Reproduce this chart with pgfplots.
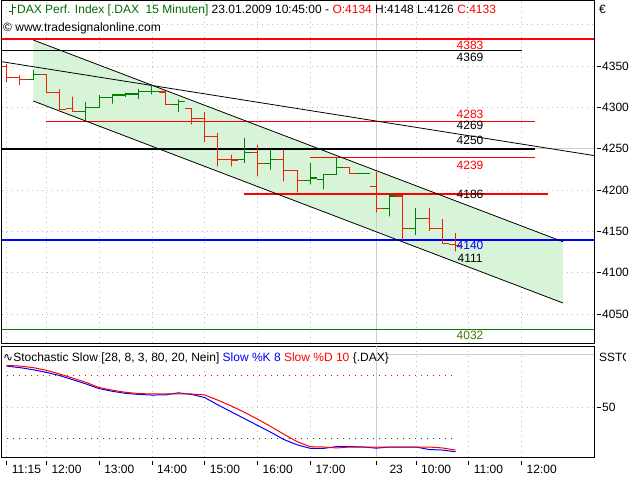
\documentclass[border=0pt]{standalone}
\usepackage{fontspec}
\setmainfont{Liberation Sans}
\newfontfamily\dejavu{DejaVu Sans}
\usepackage{pgfplots}
\pgfplotsset{compat=1.18}

\definecolor{barred}{RGB}{235,35,0}
\definecolor{bargreen}{RGB}{0,128,0}
\definecolor{chan}{RGB}{216,244,216}
\definecolor{hdrgreen}{RGB}{0,110,0}
\definecolor{lvlred}{RGB}{255,0,0}
\definecolor{lvlgreen}{RGB}{0,128,0}
\definecolor{dotgreen}{RGB}{0,100,0}
\definecolor{lblolive}{RGB}{70,120,0}
\definecolor{dotgray}{RGB}{190,190,190}
\definecolor{sepgray}{RGB}{205,205,205}

\tikzset{lvl/.style={inner sep=0pt}}

\pgfplotsset{
  panel/.style={
    scale only axis, width=592pt,
    xmin=-0.356, xmax=44.49,
    axis line style={line width=1pt},
    tick align=outside,
    tick label style={font=\fontsize{12}{14}\selectfont},
    xtick={0,3,7,11,15,19,23,28,31,35,39},
    ytick pos=right, yticklabel pos=right,
    ytick style={black, line width=0.8pt, xshift=3pt},
    major tick length=4pt,
    grid=major,
    grid style={dotgray, line width=0.8pt, dash pattern=on 1pt off 4pt},
    unbounded coords=jump,
    /pgf/number format/1000 sep={},
    /pgf/number format/assume math mode=true,
  },
}

\begin{document}
\fontsize{12}{14}\selectfont
\begin{tikzpicture}[x=1pt,y=1pt]
\useasboundingbox (0,0) rectangle (640,480);
\fill[white] (0,0) rectangle (640,480);

%% price panel
\begin{axis}[panel, at={(2pt,137pt)}, anchor=south west, height=342pt,
  ymin=4015.1, ymax=4428.9, ytick={4050,4100,...,4350},
  extra y ticks={4400}, extra y tick labels={}, extra y tick style={major tick length=0pt},
  xticklabels={}, xtick style={draw=none}]

% trend channel
\addplot[fill=chan, draw=none] coordinates {(2.015,4381.7)(42.14,4137.6)(42.14,4063.5)(2.015,4307.9)} -- cycle;
\addplot[sepgray, line width=1pt] coordinates {(28,4015.1)(28,4428.9)};
\addplot[sepgray, line width=1pt] coordinates {(28,4250)(44.49,4250)};

% levels
\addplot[lvlred, line width=2.2pt] coordinates {(-0.356,4383)(44.49,4383)};
\addplot[black, line width=1pt] coordinates {(-0.356,4369)(39,4369)};
\addplot[lvlred, line width=1pt] coordinates {(3,4283)(40,4283)};
\addplot[black, line width=2.2pt] coordinates {(-0.356,4250)(40,4250)};
\addplot[lvlred, line width=1pt] coordinates {(23,4239)(40,4239)};
\addplot[lvlred, line width=2.2pt] coordinates {(18,4195.5)(41,4195.5)};
\addplot[blue, line width=2.2pt] coordinates {(-0.356,4140)(44.49,4140)};
\addplot[lvlgreen, line width=1pt] coordinates {(-0.356,4032)(44.49,4032)};

% trend lines
\addplot[black, line width=0.8pt] coordinates {(-0.356,4355.4)(44.49,4241.9)};
\addplot[black, line width=0.8pt] coordinates {(2.015,4381.7)(42.14,4137.6)};
\addplot[black, line width=0.8pt] coordinates {(2.015,4307.9)(42.14,4063.5)};

% 15 min bars, falling
\addplot[barred, line width=1.1pt] coordinates {
(-0.5,4349.6)(0,4349.6)(0,4331)(0,4352.4)(0,4336.2)(0.5,4336.2)(0,nan)
(0.5,4336.2)(1,4336.2)(1,4327)(1,4339)(1,4333.4)(1.5,4333.4)(1,nan)
(2.5,4340.3)(3,4340.3)(3,4318)(3,4340.3)(3,4318)(3.5,4318)(3,nan)
(3.5,4318)(4,4318)(4,4297.8)(4,4322)(4,4297.8)(4.5,4297.8)(4,nan)
(4.5,4298.6)(5,4298.6)(5,4295)(5,4313.2)(5,4295.7)(5.5,4295.7)(5,nan)
(11.5,4318.8)(12,4318.8)(12,4303.8)(12,4318.8)(12,4303.8)(12.5,4303.8)(12,nan)
(13.5,4298.6)(14,4298.6)(14,4279.6)(14,4298.6)(14,4286.4)(14.5,4286.4)(14,nan)
(14.5,4286.4)(15,4286.4)(15,4258.1)(15,4294.5)(15,4264.6)(15.5,4264.6)(15,nan)
(15.5,4264.6)(16,4264.6)(16,4228.9)(16,4269.4)(16,4237)(16.5,4237)(16,nan)
(16.5,4237.5)(17,4237.5)(17,4228.9)(17,4243.1)(17,4236.5)(17.5,4236.5)(17,nan)
(18.5,4245.1)(19,4245.1)(19,4216.8)(19,4255.2)(19,4232.2)(19.5,4232.2)(19,nan)
(20.5,4237)(21,4237)(21,4210.7)(21,4249.2)(21,4223.6)(21.5,4223.6)(21,nan)
(21.5,4223.6)(22,4223.6)(22,4197.3)(22,4223.6)(22,4211.9)(22.5,4211.9)(22,nan)
(25.5,4227.5)(26,4227.5)(26,4220.5)(26,4227.5)(26,4220.5)(26.5,4220.5)(26,nan)
(27.5,4204.5)(28,4204.5)(28,4173)(28,4222)(28,4178.3)(28.5,4178.3)(28,nan)
(29.5,4193)(30,4193)(30,4140)(30,4194.5)(30,4153.2)(30.5,4153.2)(30,nan)
(31.5,4166.2)(32,4166.2)(32,4150.8)(32,4178.4)(32,4153.2)(32.5,4153.2)(32,nan)
(32.5,4153.2)(33,4153.2)(33,4135.9)(33,4165)(33,4135.9)(33.5,4135.9)(33,nan)
(33.5,4134)(34,4134)(34,4126)(34,4148)(34,4133)(34.5,4133)
};
% 15 min bars, rising
\addplot[bargreen, line width=1.1pt] coordinates {
(1.5,4333.4)(2,4333.4)(2,4333.4)(2,4345.5)(2,4339.5)(2.5,4339.5)(2,nan)
(5.5,4295.7)(6,4295.7)(6,4284)(6,4306.5)(6,4299.8)(6.5,4299.8)(6,nan)
(6.5,4299.8)(7,4299.8)(7,4299.8)(7,4315)(7,4312.5)(7.5,4312.5)(7,nan)
(7.5,4312.5)(8,4312.5)(8,4304.7)(8,4316)(8,4315.2)(8.5,4315.2)(8,nan)
(8.5,4315.2)(9,4315.2)(9,4313)(9,4318)(9,4316.4)(9.5,4316.4)(9,nan)
(9.5,4316.4)(10,4316.4)(10,4310.5)(10,4322.5)(10,4319)(10.5,4319)(10,nan)
(10.5,4319)(11,4319)(11,4316)(11,4328)(11,4319.4)(11.5,4319.4)(11,nan)
(12.5,4303.8)(13,4303.8)(13,4294.5)(13,4310)(13,4307.1)(13.5,4307.1)(13,nan)
(17.5,4237)(18,4237)(18,4233)(18,4263.3)(18,4245.1)(18.5,4245.1)(18,nan)
(19.5,4232.2)(20,4232.2)(20,4224.9)(20,4249.2)(20,4237)(20.5,4237)(20,nan)
(22.5,4211.9)(23,4211.9)(23,4207)(23,4233)(23,4214.7)(23.5,4214.7)(23,nan)
(23.5,4212.7)(24,4212.7)(24,4201)(24,4218.8)(24,4218.8)(24.5,4218.8)(24,nan)
(24.5,4218.8)(25,4218.8)(25,4218.8)(25,4239)(25,4227.5)(25.5,4227.5)(25,nan)
(26.5,4220)(27,4220)(27,4219.6)(27,4220.6)(27,4220.4)(27.5,4220.4)(27,nan)
(28.5,4178.3)(29,4178.3)(29,4168.2)(29,4194.5)(29,4193)(29.5,4193)(29,nan)
(30.5,4153.2)(31,4153.2)(31,4146)(31,4178.4)(31,4166.2)(31.5,4166.2)
};

% level labels
\node[lvl, lvlred] at (35.1,4375) {4383};
\node[lvl] at (35.1,4361) {4369};
\node[lvl, lvlred] at (35.1,4292) {4283};
\node[lvl] at (35.1,4278.5) {4269};
\node[lvl] at (35.1,4260) {4250};
\node[lvl, lvlred] at (35.1,4230.5) {4239};
\node[lvl] at (35.1,4195.5) {4186};
\node[lvl, blue] at (35.1,4133.5) {4140};
\node[lvl] at (35.1,4118) {4111};
\node[lvl, lblolive] at (35.1,4024) {4032};
\end{axis}

%% stochastic panel
\begin{axis}[panel, at={(2pt,23pt)}, anchor=south west, height=111pt,
  ymin=2.38, ymax=108.1, ytick={50},
  xtick pos=left, xtick style={black, line width=0.8pt, yshift=-4pt},
  xticklabels={11:15,12:00,13:00,14:00,15:00,16:00,17:00,\hspace*{8pt}23,10:00,11:00,12:00},
  xticklabel style={anchor=north west, xshift=1pt}]
\addplot[sepgray, line width=1pt] coordinates {(28,2.38)(28,108.1)};
\addplot[sepgray, line width=1pt] coordinates {(28,100)(44.49,100)};
\addplot[lvlred, line width=1.6pt, dash pattern=on 1.6pt off 4.4pt] coordinates {(0,80)(34,80)};
\addplot[dotgreen, line width=1.6pt, dash pattern=on 1.6pt off 4.4pt] coordinates {(0,20)(34,20)};
% Slow %K
\addplot[blue, line width=1pt] coordinates {
(0,89)(1,87.5)(2,85.5)(3,83)(4,80)(5,76)(6,72)(7,67.5)(8,65)(9,63)(10,62)(11,61.4)
(12,61.5)(13,63.5)(14,62)(15,59)(16,52)(17,45.5)(18,39)(19,32.5)(20,26)(21,19)(22,14)
(23,10.6)(24,10.6)(25,12.3)(26,12.3)(27,11.9)(28,10.8)(29,11.9)(30,11.9)(31,11.9)
(32,9.5)(33,9)(34,7.4)
};
% Slow %D
\addplot[lvlred, line width=1pt] coordinates {
(0,89.6)(1,89)(2,87.5)(3,85)(4,81.5)(5,77.5)(6,73.5)(7,68.5)(8,66)(9,64)(10,62.8)(11,62.4)
(12,62.4)(13,62.4)(14,62.4)(15,61.5)(16,56.5)(17,51)(18,45)(19,38.5)(20,31.5)(21,24)(22,17)
(23,12.2)(24,11.9)(25,11)(26,11.9)(27,11.9)(28,11.9)(29,11.9)(30,11.9)(31,11.9)
(32,11.9)(33,11)(34,9)
};
\end{axis}

%% header texts
\draw[hdrgreen, line width=1pt] (12,476) -- (12,465) (8.5,468.5) -- (12,468.5) (12,472) -- (15.5,472);
\node[anchor=base west, inner sep=0pt] at (17,466)
  {\textcolor{hdrgreen}{DAX Perf. Index [.DAX\ \ 15 Minuten]} 23.01.2009 10:45:00 - \textcolor{lvlred}{O:4134} H:4148 L:4126 \textcolor{lvlred}{C:4133}};
\node[anchor=base west, inner sep=0pt] at (3,448) {\textcopyright\ www.tradesignalonline.com};
\node[anchor=base west, inner sep=0pt] at (599,466) {€};
\node[anchor=base west, inner sep=0pt] at (3,119)
  {{\dejavu ∿}Stochastic Slow [28, 8, 3, 80, 20, Nein] \textcolor{blue}{Slow \%K 8} \textcolor{lvlred}{Slow \%D 10} \{.DAX\}};
\begin{scope}
\clip (595,100) rectangle (625,135);
\node[anchor=base west, inner sep=0pt] at (599,119) {SSTO};
\end{scope}
\end{tikzpicture}
\end{document}
